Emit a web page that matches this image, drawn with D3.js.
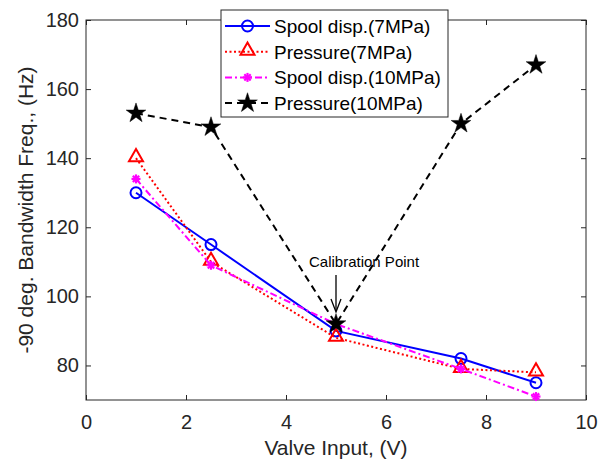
<!DOCTYPE html>
<html>
<head>
<meta charset="utf-8">
<script src="https://cdn.jsdelivr.net/npm/d3@7"></script>
<style>
  body { margin: 0; background: #fff; }
  svg { font-family: "Liberation Sans", Arial, sans-serif; }
</style>
</head>
<body>
<svg id="chart" width="608" height="466"></svg>
<script>
// data
const valveInput = [1, 2.5, 5, 7.5, 9];
const spool7 = [130, 115, 90, 82, 75];
const pressure7 = [140, 110, 88, 79, 78];
const spool10 = [134, 109, 92, 79, 71];
const pressure10 = [153, 149, 92, 150, 167];
const xTicks = [0, 2, 4, 6, 8, 10];
const yTicks = [80, 100, 120, 140, 160, 180];

const series = [
  { name: 'Spool disp.(7MPa)', values: spool7, color: '#0000ff', dash: null, marker: 'circle' },
  { name: 'Pressure(7MPa)', values: pressure7, color: '#ff0000', dash: '2,2.5', marker: 'triangle' },
  { name: 'Spool disp.(10MPa)', values: spool10, color: '#ff00ff', dash: '7,3,2,3', marker: 'asterisk' },
  { name: 'Pressure(10MPa)', values: pressure10, color: '#000000', dash: '7,5', marker: 'star' }
];

const svg = d3.select('#chart');
const plotLeft = 86, plotRight = 586, plotTop = 20, plotBottom = 400;

const x = d3.scaleLinear().domain([0, 10]).range([plotLeft, plotRight]);
const y = d3.scaleLinear().domain([70, 180]).range([plotBottom, plotTop]);

const axisColor = '#262626';

// axes (ticks inward, box on)
function styleAxis(g) {
  g.select('.domain').remove();
  g.selectAll('.tick line').attr('stroke', axisColor).attr('stroke-width', 1);
  g.selectAll('.tick text').attr('fill', axisColor).style('font-size', '20px');
}

svg.append('g')
  .attr('transform', `translate(0,${plotBottom})`)
  .call(d3.axisBottom(x).tickValues(xTicks).tickSizeInner(-5).tickSizeOuter(0).tickPadding(15))
  .call(styleAxis);

svg.append('g')
  .attr('transform', `translate(0,${plotTop})`)
  .call(d3.axisTop(x).tickValues(xTicks).tickSizeInner(-5).tickSizeOuter(0).tickFormat(''))
  .call(styleAxis);

svg.append('g')
  .attr('transform', `translate(${plotLeft},0)`)
  .call(d3.axisLeft(y).tickValues(yTicks).tickSizeInner(-5).tickSizeOuter(0).tickPadding(7))
  .call(styleAxis);

svg.append('g')
  .attr('transform', `translate(${plotRight},0)`)
  .call(d3.axisRight(y).tickValues(yTicks).tickSizeInner(-5).tickSizeOuter(0).tickFormat(''))
  .call(styleAxis);

svg.append('rect')
  .attr('x', plotLeft).attr('y', plotTop)
  .attr('width', plotRight - plotLeft).attr('height', plotBottom - plotTop)
  .attr('fill', 'none').attr('stroke', axisColor).attr('stroke-width', 1);

// axis labels
svg.append('text')
  .attr('x', (plotLeft + plotRight) / 2).attr('y', 455)
  .attr('text-anchor', 'middle').attr('fill', axisColor)
  .style('font-size', '21px')
  .text('Valve Input, (V)');

svg.append('text')
  .attr('transform', `translate(33,${(plotTop + plotBottom) / 2}) rotate(-90)`)
  .attr('text-anchor', 'middle').attr('fill', axisColor)
  .style('font-size', '21px')
  .text('-90 deg. Bandwidth Freq., (Hz)');

// markers
const starPath = d3.symbol().type(d3.symbolStar).size(120)();
const triPath = d3.symbol().type(d3.symbolTriangle).size(85)();

function drawMarker(g, type, color) {
  if (type === 'circle') {
    g.append('circle').attr('r', 5.5).attr('fill', 'none')
      .attr('stroke', color).attr('stroke-width', 2);
  } else if (type === 'triangle') {
    g.append('path').attr('d', triPath).attr('transform', 'translate(0,-1)')
      .attr('fill', 'none').attr('stroke', color).attr('stroke-width', 2);
  } else if (type === 'asterisk') {
    [0, 45, 90, 135].forEach(a => {
      g.append('line').attr('x1', -4.5).attr('x2', 4.5)
        .attr('transform', `rotate(${a})`)
        .attr('stroke', color).attr('stroke-width', 2.2);
    });
  } else if (type === 'star') {
    g.append('path').attr('d', starPath).attr('fill', color).attr('stroke', color).attr('stroke-width', 0.5);
  }
}

const line = d3.line().x(d => x(d[0])).y(d => y(d[1]));

series.forEach(s => {
  const pts = valveInput.map((v, i) => [v, s.values[i]]);
  svg.append('path')
    .datum(pts)
    .attr('d', line)
    .attr('fill', 'none')
    .attr('stroke', s.color)
    .attr('stroke-width', 2)
    .attr('stroke-dasharray', s.dash);
  pts.forEach(p => {
    const g = svg.append('g').attr('transform', `translate(${x(p[0])},${y(p[1])})`);
    drawMarker(g, s.marker, s.color);
  });
});

// calibration annotation
svg.append('text')
  .attr('x', 309).attr('y', 267)
  .attr('fill', '#000')
  .style('font-size', '15px')
  .text('Calibration Point');

svg.append('line')
  .attr('x1', x(5)).attr('x2', x(5))
  .attr('y1', 275).attr('y2', 311)
  .attr('stroke', '#000').attr('stroke-width', 1.3);
svg.append('path')
  .attr('d', `M${x(5) - 5},${299} L${x(5)},${312} L${x(5) + 5},${299}`)
  .attr('fill', 'none').attr('stroke', '#000').attr('stroke-width', 1.3);

// legend
const legend = svg.append('g');
legend.append('rect')
  .attr('x', 221).attr('y', 10).attr('width', 227).attr('height', 107)
  .attr('fill', '#fff').attr('stroke', axisColor).attr('stroke-width', 1);

series.forEach((s, i) => {
  const ly = 26 + i * 25.7;
  legend.append('line')
    .attr('x1', 225).attr('x2', 270).attr('y1', ly).attr('y2', ly)
    .attr('stroke', s.color).attr('stroke-width', 2)
    .attr('stroke-dasharray', s.dash);
  const g = legend.append('g').attr('transform', `translate(247.5,${ly})`);
  drawMarker(g, s.marker, s.color);
  legend.append('text')
    .attr('x', 274).attr('y', ly + 7)
    .attr('fill', '#000')
    .style('font-size', '19px')
    .text(s.name);
});
</script>
</body>
</html>
